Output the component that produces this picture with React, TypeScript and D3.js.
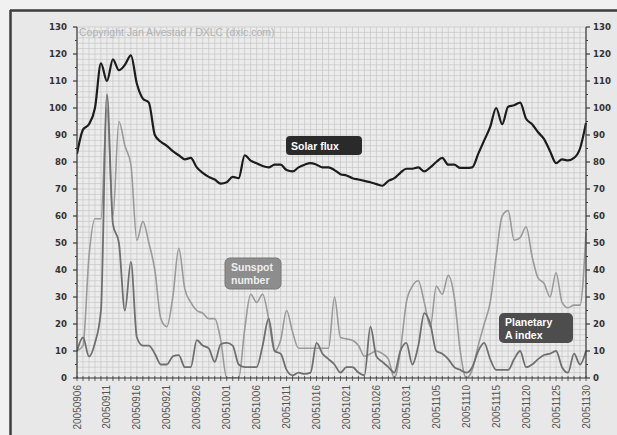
import React from 'react';
import * as d3 from 'd3';

// daily values 2005-09-06 .. 2005-11-30
const solarFlux = [
  83, 92, 94, 100, 116.5, 110, 118, 114, 116, 119.5,
  109, 103.5, 102, 90, 87.5, 86, 84, 82.5, 81, 81.5,
  78, 76, 74.5, 73.5, 72, 72.5, 74.5, 74, 82.5, 80.5,
  79.5, 78.5, 78, 79, 79, 77, 76.5, 78, 79, 79.6,
  79, 78, 78, 77, 75.5, 75, 74, 73.5, 73, 72.5,
  71.8, 71.2, 73, 74, 76, 77.5, 77.5, 78, 76.5, 78,
  80, 81.5, 79, 79, 77.8, 77.8, 78, 83, 88, 93,
  100, 94, 100.5, 101, 102, 96, 94, 91, 88.5, 84,
  79.6, 81, 80.6, 81.5, 85, 94.5,
];

const sunspotNumber = [
  10, 12, 45, 59, 59, 100, 60, 95, 86, 79,
  51, 58, 50, 40, 22, 19, 30, 48, 33, 28,
  25, 24, 22, 22, 14, 0, 0, 0, 18, 31,
  28, 31, 22, 10, 14, 25, 17, 11, 11, 11,
  11, 11, 11, 30, 15, 14.5, 14, 12, 8, 9,
  10, 9, 7, 0, 10, 28, 34, 36, 28, 19,
  34, 31, 38, 30, 10, 0, 3, 12, 20, 28,
  45, 60, 62, 51, 52, 56, 45, 37, 35, 30,
  39, 28, 26, 27, 27, 54,
];

const planetaryA = [
  10, 15, 8, 13, 25, 105, 57, 50, 25, 43,
  15, 12, 12, 9, 5, 5, 8, 8.5, 4, 4,
  14, 12, 11, 6, 12.5, 13, 12, 5, 4, 4,
  4, 12, 22, 10, 9, 3, 1, 2, 1.5, 2,
  13, 9, 7, 5, 2, 4, 4, 2, 1, 19,
  8, 6, 4, 2, 10, 13, 5, 12, 24, 20,
  10, 9, 7, 4, 3, 2, 4, 10, 13, 7,
  3, 3, 3, 7, 10, 4, 5, 7, 8.5, 9,
  10, 4, 2, 9, 5, 10,
];

const tickLabels = [
  '20050906', '20050911', '20050916', '20050921', '20050926', '20051001',
  '20051006', '20051011', '20051016', '20051021', '20051026', '20051031',
  '20051105', '20051110', '20051115', '20051120', '20051125', '20051130',
];

const yTicks = [0, 10, 20, 30, 40, 50, 60, 70, 80, 90, 100, 110, 120, 130];

const W = 617;
const H = 435;
const L = 77;
const R = 586;
const T = 27;
const B = 378;

const parse = d3.utcParse('%Y%m%d');
const fmt = d3.utcFormat('%Y%m%d');
const days = d3.utcDay
  .range(parse('20050906')!, d3.utcDay.offset(parse('20051130')!, 1))
  .map(fmt);

export default function App() {
  const x = d3.scalePoint<string>().domain(days).range([L, R]);
  const y = d3.scaleLinear().domain([0, 130]).range([B, T]);

  const line = d3
    .line<number>()
    .x((_, i) => x(days[i])!)
    .y((d) => y(d))
    .curve(d3.curveMonotoneX);

  const hGrid = d3.range(0, 131, 2);
  const minorY = d3.range(5, 130, 10);

  return (
    <svg
      width={W}
      height={H}
      style={{ position: 'absolute', left: 0, top: 0, display: 'block' }}
    >
      <rect x={0} y={0} width={W} height={H} fill="#f1f1f1" />
      <rect x={10} y={10} width={W - 10} height={H - 10} fill="#e8e8e8" />
      <line x1={10.5} y1={10} x2={10.5} y2={H} stroke="#3c3c3c" strokeWidth={2.5} />
      <line x1={10} y1={10.5} x2={W} y2={10.5} stroke="#3c3c3c" strokeWidth={2.5} />

      <rect x={L} y={T} width={R - L} height={B - T} fill="#ececec" />
      <g stroke="#c6c6c6" strokeWidth={0.7}>
        {days.map((d) => (
          <line key={d} x1={x(d)} x2={x(d)} y1={T} y2={B} />
        ))}
        {hGrid.map((v) => (
          <line key={v} x1={L} x2={R} y1={y(v)} y2={y(v)} />
        ))}
      </g>

      <text
        x={79}
        y={36}
        fontFamily="Liberation Sans, Arial, sans-serif"
        fontSize={10.5}
        fill="#b2b2b2"
      >
        Copyright Jan Alvestad / DXLC (dxlc.com)
      </text>

      <defs>
        <clipPath id="plot">
          <rect x={L} y={T - 2} width={R - L + 1} height={B - T + 2} />
        </clipPath>
      </defs>
      <g clipPath="url(#plot)" fill="none" strokeLinejoin="round">
        <path d={line(sunspotNumber)!} stroke="#9a9a9a" strokeWidth={1.6} />
        <path d={line(planetaryA)!} stroke="#6f6f6f" strokeWidth={1.8} />
        <path d={line(solarFlux)!} stroke="#1c1c1c" strokeWidth={2.2} />
      </g>

      {/* axes */}
      <g stroke="#3a3a3a" strokeWidth={1.2}>
        <line x1={L} x2={L} y1={T} y2={B} />
        <line x1={R} x2={R} y1={T} y2={B} />
        <line x1={L} x2={R} y1={B} y2={B} />
        {yTicks.map((v) => (
          <g key={v}>
            <line x1={L - 4} x2={L} y1={y(v)} y2={y(v)} />
            <line x1={R} x2={R + 4} y1={y(v)} y2={y(v)} />
          </g>
        ))}
        {minorY.map((v) => (
          <g key={v}>
            <line x1={L - 2} x2={L} y1={y(v)} y2={y(v)} />
            <line x1={R} x2={R + 2} y1={y(v)} y2={y(v)} />
          </g>
        ))}
        {days.map((d) => (
          <line key={d} x1={x(d)} x2={x(d)} y1={B - 2} y2={B + 3} strokeWidth={0.8} />
        ))}
      </g>

      <g fontFamily="DejaVu Sans, Verdana, sans-serif" fontWeight="bold" fontSize={8.6} fill="#333">
        {yTicks.map((v) => (
          <g key={v}>
            <text x={67} y={y(v)} dy="0.35em" textAnchor="end">{v}</text>
            <text x={593} y={y(v)} dy="0.35em" textAnchor="start">{v}</text>
          </g>
        ))}
      </g>

      <g fontFamily="Liberation Sans, Arial, sans-serif" fontSize={10} fill="#555">
        {tickLabels.map((t) => (
          <text
            key={t}
            transform={`translate(${x(t)},385) rotate(-90)`}
            dy="0.35em"
            textAnchor="end"
          >
            {t}
          </text>
        ))}
      </g>

      {/* series labels */}
      <g fontFamily="Liberation Sans, Arial, sans-serif" fontWeight="bold" fontSize={10.5}>
        <rect x={286} y={136} width={76} height={19} rx={4} fill="#2a2a2a" />
        <text x={291} y={149.5} fill="#fff">Solar flux</text>

        <rect x={225} y={258} width={56} height={31} rx={5} fill="#8d8d8d" stroke="#777" />
        <text x={231} y={271} fill="#eee">Sunspot</text>
        <text x={231} y={284} fill="#eee">number</text>

        <rect x={499} y={313} width={74} height={30} rx={5} fill="#4d4d4d" />
        <text x={505} y={325.5} fill="#fff">Planetary</text>
        <text x={505} y={339} fill="#fff">A index</text>
      </g>
    </svg>
  );
}
